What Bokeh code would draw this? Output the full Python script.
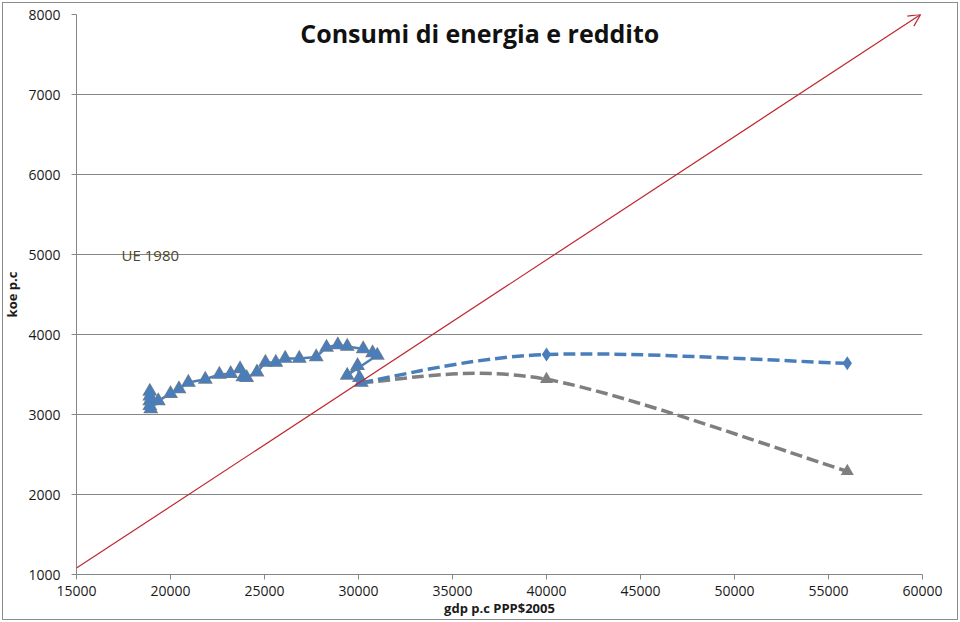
from bokeh.plotting import figure
from bokeh.models import FixedTicker, Label, Arrow, OpenHead, ColumnDataSource
from bokeh.embed import file_html
from bokeh.resources import INLINE

# ---------------- data ----------------
title_text = "Consumi di energia e reddito"
x_title = "gdp p.c PPP$2005"
y_title = "koe p.c"
note_text = "UE 1980"
note_x = 17400
note_y = 5000
title_x = 36450
title_y = 7770

x_ticks = [15000, 20000, 25000, 30000, 35000, 40000, 45000, 50000, 55000, 60000]
y_ticks = [1000, 2000, 3000, 4000, 5000, 6000, 7000, 8000]

# historical EU path (gdp per capita, koe per capita)
hist_gdp = [18900, 18900, 18900, 18900, 18950, 19350, 20000, 20450, 20950, 21850,
            22600, 23200, 23700, 23850, 24050, 24600, 25050, 25600, 26100, 26850,
            27750, 28300, 28900, 29400, 30250, 30750, 31000, 29400, 29950, 30050,
            30150]
hist_koe = [3290, 3230, 3170, 3110, 3070, 3170, 3260, 3320, 3400, 3440,
            3500, 3510, 3570, 3470, 3460, 3530, 3650, 3650, 3700, 3700,
            3720, 3840, 3870, 3850, 3820, 3770, 3740, 3490, 3610, 3460,
            3400]

# projections
proj_gdp = [40000, 56000]
blue_koe = [3750, 3640]
grey_koe = [3440, 2290]

# red reference arrow
arrow_gdp = [15000, 59900]
arrow_koe = [1080, 8000]

BLUE = "#4a7ebb"
GREY = "#7f7f7f"
RED = "#c0272d"
AXIS = "#868686"
FONT = "Open Sans"


def smooth_segments(xs, ys):
    """Bezier control points of a Catmull-Rom style smoothed line (as Excel)."""
    n = len(xs)
    d = dict(x0=[], y0=[], x1=[], y1=[], cx0=[], cy0=[], cx1=[], cy1=[])
    for i in range(n - 1):
        xp, yp = (xs[i - 1], ys[i - 1]) if i > 0 else (xs[i], ys[i])
        xn, yn = (xs[i + 2], ys[i + 2]) if i + 2 < n else (xs[i + 1], ys[i + 1])
        d["x0"].append(xs[i]); d["y0"].append(ys[i])
        d["x1"].append(xs[i + 1]); d["y1"].append(ys[i + 1])
        d["cx0"].append(xs[i] + (xs[i + 1] - xp) / 6.0)
        d["cy0"].append(ys[i] + (ys[i + 1] - yp) / 6.0)
        d["cx1"].append(xs[i + 1] - (xn - xs[i]) / 6.0)
        d["cy1"].append(ys[i + 1] - (yn - ys[i]) / 6.0)
    return ColumnDataSource(d)


p = figure(width=960, height=622, x_range=(15000, 60000), y_range=(1000, 8000),
           output_backend="svg", toolbar_location=None,
           min_border_left=74, min_border_right=38, min_border_top=14, min_border_bottom=48)
p.outline_line_color = None
p.background_fill_color = "white"
p.border_fill_color = None
p.styles = {"outline": "1px solid #8c8c8c", "outline-offset": "-3px"}

p.xgrid.visible = False
p.ygrid.grid_line_color = AXIS
p.ygrid.grid_line_width = 1

p.xaxis.ticker = FixedTicker(ticks=x_ticks)
p.yaxis.ticker = FixedTicker(ticks=y_ticks)
for ax in (p.xaxis[0], p.yaxis[0]):
    ax.axis_line_color = AXIS
    ax.major_tick_line_color = AXIS
    ax.major_tick_out = 5
    ax.major_tick_in = 0
    ax.minor_tick_out = 0
    ax.minor_tick_in = 0
    ax.major_label_text_font = FONT
    ax.major_label_text_font_size = "14px"
    ax.major_label_text_color = "#1a1a1a"
    ax.axis_label_text_font = FONT
    ax.axis_label_text_font_size = "13px"
    ax.axis_label_text_font_style = "bold"
    ax.axis_label_text_color = "#1a1a1a"
p.xaxis.major_label_standoff = 6
p.yaxis.major_label_standoff = 11
p.xaxis.axis_label = x_title
p.yaxis.axis_label = y_title
p.xaxis.axis_label_standoff = 0
p.yaxis.axis_label_standoff = 4

# red diagonal arrow
p.add_layout(Arrow(end=OpenHead(size=12, line_color=RED, line_width=1.2),
                   x_start=arrow_gdp[0], y_start=arrow_koe[0],
                   x_end=arrow_gdp[1], y_end=arrow_koe[1],
                   line_color=RED, line_width=1.2))

# historical path
p.line(hist_gdp, hist_koe, line_color=BLUE, line_width=2.5)

# smoothed dashed projections starting from the last historical point
blue_src = smooth_segments([hist_gdp[-1]] + proj_gdp, [hist_koe[-1]] + blue_koe)
grey_src = smooth_segments([hist_gdp[-1]] + proj_gdp, [hist_koe[-1]] + grey_koe)
p.bezier(x0="x0", y0="y0", x1="x1", y1="y1", cx0="cx0", cy0="cy0", cx1="cx1", cy1="cy1",
         source=grey_src, line_color=GREY, line_width=3.5, line_dash="12 5")
p.bezier(x0="x0", y0="y0", x1="x1", y1="y1", cx0="cx0", cy0="cy0", cx1="cx1", cy1="cy1",
         source=blue_src, line_color=BLUE, line_width=3.5, line_dash="12 5")

# markers
p.scatter(hist_gdp, hist_koe, marker="triangle", size=15, fill_color=GREY, line_color=None)
p.scatter(hist_gdp, hist_koe, marker="triangle", size=13, fill_color=BLUE, line_color=None)
p.scatter(proj_gdp, grey_koe, marker="triangle", size=13, fill_color=GREY, line_color=None)
p.scatter(proj_gdp, blue_koe, marker="diamond", size=14, fill_color=BLUE, line_color=None)

# texts
p.add_layout(Label(x=title_x, y=title_y, text=title_text,
                   text_align="center", text_baseline="middle",
                   text_font=FONT, text_font_size="25px", text_font_style="bold",
                   text_color="#111111"))
p.add_layout(Label(x=note_x, y=note_y, text=note_text, text_align="left",
                   text_baseline="middle", text_font=FONT, text_font_size="15px",
                   text_color="#4d4628"))

open("out.html", "w").write(file_html(p, INLINE))
